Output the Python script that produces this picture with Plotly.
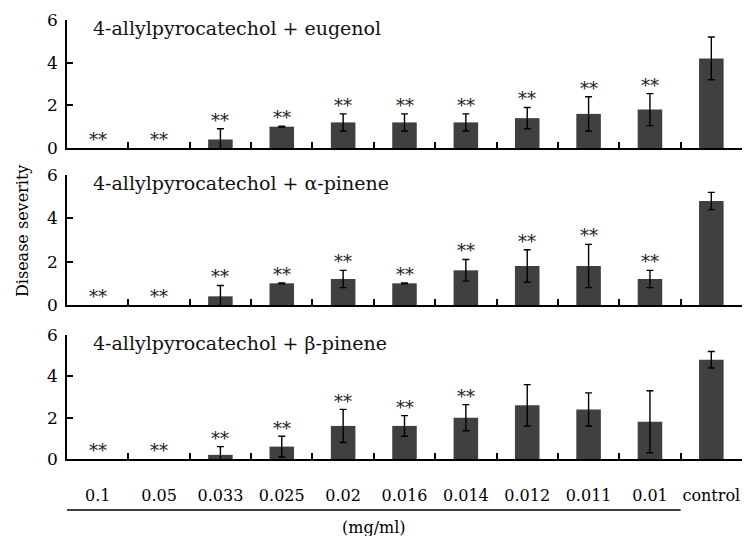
import plotly.graph_objects as go

categories = ["0.1", "0.05", "0.033", "0.025", "0.02", "0.016", "0.014", "0.012", "0.011", "0.01", "control"]

panel_titles = ["4-allylpyrocatechol + eugenol",
                "4-allylpyrocatechol + α-pinene",
                "4-allylpyrocatechol + β-pinene"]

eugenol_mean = [0, 0, 0.4, 1.0, 1.2, 1.2, 1.2, 1.4, 1.6, 1.8, 4.2]
eugenol_err = [0, 0, 0.5, 0.02, 0.4, 0.4, 0.4, 0.5, 0.8, 0.75, 1.0]
eugenol_sig = ["**", "**", "**", "**", "**", "**", "**", "**", "**", "**", ""]

alpha_mean = [0, 0, 0.4, 1.0, 1.2, 1.0, 1.6, 1.8, 1.8, 1.2, 4.8]
alpha_err = [0, 0, 0.5, 0.02, 0.4, 0.02, 0.5, 0.75, 1.0, 0.4, 0.4]
alpha_sig = ["**", "**", "**", "**", "**", "**", "**", "**", "**", "**", ""]

beta_mean = [0, 0, 0.2, 0.6, 1.6, 1.6, 2.0, 2.6, 2.4, 1.8, 4.8]
beta_err = [0, 0, 0.4, 0.5, 0.8, 0.5, 0.63, 1.0, 0.8, 1.5, 0.4]
beta_sig = ["**", "**", "**", "**", "**", "**", "**", "", "", "", ""]

y_label = "Disease severity"
x_unit = "(mg/ml)"

W, H = 744, 536
FONT = "DejaVu Serif"
BAR = "#404040"

panels = [(eugenol_mean, eugenol_err, eugenol_sig),
          (alpha_mean, alpha_err, alpha_sig),
          (beta_mean, beta_err, beta_sig)]

# pixel geometry (top, bottom) of each plot area
px_rows = [(20, 148), (175, 305), (335, 459)]
x_left, x_right = 67, 742

fig = go.Figure()
annotations = []
for i, (mean, err, sig) in enumerate(panels):
    n = "" if i == 0 else str(i + 1)
    fig.add_trace(go.Bar(
        x=categories, y=mean,
        xaxis="x" + n, yaxis="y" + n,
        marker=dict(color=BAR, line=dict(width=0)),
        width=0.4,
        showlegend=False, hoverinfo="skip",
    ))
    # error bars only where a bar / spread exists
    keep = [k for k in range(len(categories)) if mean[k] > 0 or err[k] > 0]
    fig.add_trace(go.Scatter(
        x=[categories[k] for k in keep], y=[mean[k] for k in keep],
        xaxis="x" + n, yaxis="y" + n,
        mode="markers",
        marker=dict(size=1, color="rgba(0,0,0,0)"),
        error_y=dict(type="data", array=[err[k] for k in keep], visible=True,
                     color="black", thickness=1.4, width=3.5),
        showlegend=False, hoverinfo="skip",
    ))
    for k, (m, e, s) in enumerate(zip(mean, err, sig)):
        if s:
            annotations.append(dict(
                x=k, y=m + e + 0.40, xref="x" + n, yref="y" + n,
                text=s, showarrow=False, xanchor="center", yanchor="middle",
                font=dict(family=FONT, size=18, color="#222222")))
    top, bot = px_rows[i]
    annotations.append(dict(
        x=91 / W, y=1 - (top + 8) / H, xref="paper", yref="paper",
        text=panel_titles[i], showarrow=False, xanchor="left", yanchor="middle",
        font=dict(family=FONT, size=19, color="#111111")))

layout = dict(
    template="none",
    width=W, height=H, autosize=False,
    margin=dict(l=0, r=0, t=0, b=0, pad=0, autoexpand=False),
    paper_bgcolor="white", plot_bgcolor="white",
    bargap=0.6,
)
for i in range(3):
    n = "" if i == 0 else str(i + 1)
    top, bot = px_rows[i]
    layout["xaxis" + n] = dict(
        domain=[x_left / W, x_right / W],
        anchor="y" + n,
        type="category",
        categoryorder="array", categoryarray=categories,
        range=[-0.5, 10.5],
        automargin=False,
        showline=True, linecolor="black", linewidth=1.5,
        ticks="inside", ticklen=6, tickwidth=1.5, tickcolor="black",
        tickson="boundaries",
        showgrid=False, zeroline=False,
        showticklabels=(i == 2),
        tickangle=0,
        ticklabelstandoff=21,
        tickfont=dict(family=FONT, size=16, color="black"),
    )
    layout["yaxis" + n] = dict(
        domain=[1 - bot / H, 1 - top / H],
        anchor="x" + n,
        range=[0, 6], dtick=2, tick0=0,
        automargin=False,
        showline=True, linecolor="black", linewidth=1.5,
        ticks="inside", ticklen=6, tickwidth=1.5, tickcolor="black",
        showgrid=False, zeroline=False,
        ticklabelstandoff=4,
        tickfont=dict(family=FONT, size=17, color="black"),
    )

annotations.append(dict(
    x=22 / W, y=1 - 231 / H, xref="paper", yref="paper",
    text=y_label, textangle=-90, showarrow=False,
    xanchor="center", yanchor="middle",
    font=dict(family=FONT, size=16, color="black")))
annotations.append(dict(
    x=4.5, y=1 - 527 / H, xref="x3", yref="paper",
    text=x_unit, showarrow=False, xanchor="center", yanchor="middle",
    font=dict(family=FONT, size=16, color="black")))

layout["annotations"] = annotations
layout["shapes"] = [dict(
    type="line", xref="x3", yref="paper",
    x0=-0.5, x1=9.5, y0=1 - 510 / H, y1=1 - 510 / H,
    line=dict(color="black", width=1.5))]

fig.update_layout(**layout)
fig.write_html("out.html")
